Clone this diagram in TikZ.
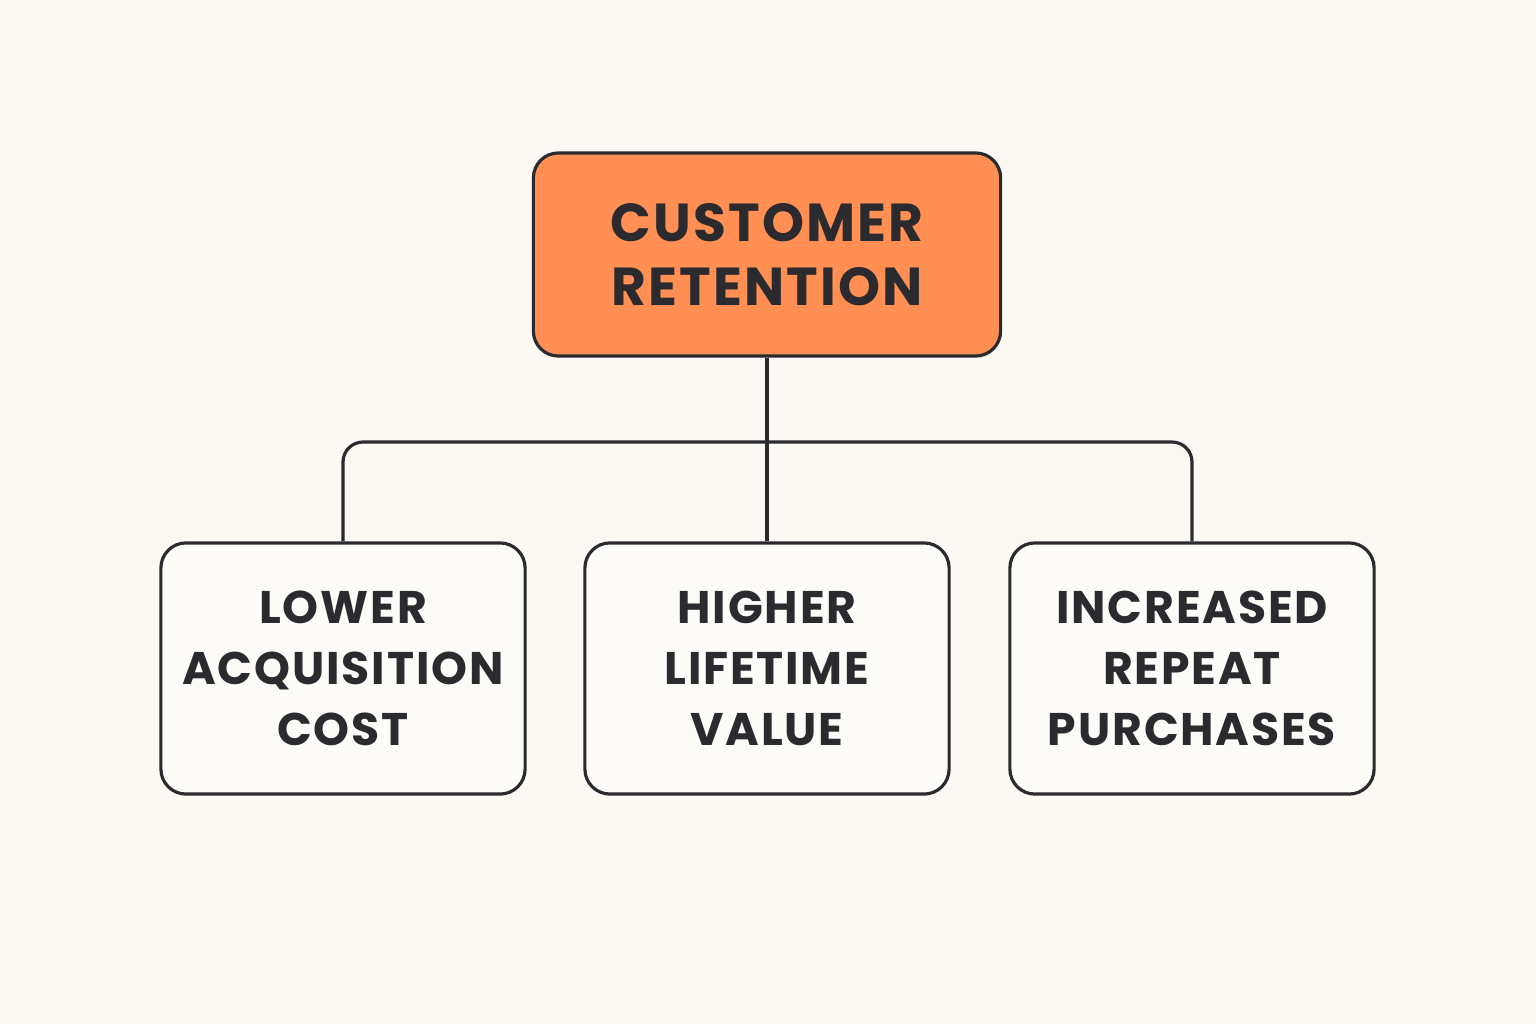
\documentclass[tikz,border=0pt]{standalone}
\usepackage{fontspec}
\setmainfont{Poppins}
\newfontfamily\spaziato[LetterSpace=4]{Poppins}
\usepackage{xcolor}
\definecolor{sfondo}{HTML}{FCF9F4}
\definecolor{arancio}{HTML}{FF8F52}
\definecolor{scuro}{HTML}{2A2A2F}
\definecolor{bianco}{HTML}{FDFBF8}
\tikzset{
  box/.style={draw=scuro, line width=0.9pt, rounded corners=0.25cm, align=center,
    text=scuro, font=\spaziato\bfseries\fontsize{13}{17.4}\selectfont},
  radice/.style={box, fill=arancio, minimum width=4.67cm, minimum height=2.03cm,
    font=\spaziato\bfseries\fontsize{15.2}{18.2}\selectfont},
  foglia/.style={box, fill=bianco, minimum width=3.64cm, minimum height=2.51cm},
  linea/.style={draw=scuro, line width=0.9pt}
}

\begin{document}
\begin{tikzpicture}[x=0.01cm, y=-0.01cm]
            % Sfondo
            \fill[sfondo] (0,0) rectangle (1536,1024);
            \useasboundingbox (0,0) rectangle (1536,1024);

            % Nodo principale
            \node[radice] (root) at (767,254.5) {CUSTOMER\\RETENTION};

            % Nodi figli
            \node[foglia] (lower) at (343,668.5) {LOWER\\ACQUISITION\\COST};
            \node[foglia] (higher) at (767,668.5) {HIGHER\\LIFETIME\\VALUE};
            \node[foglia] (repeat) at (1192,668.5) {INCREASED\\REPEAT\\PURCHASES};

            % Collegamenti
            \coordinate (split) at (767,442);
            \draw[linea] (root.south) -- (higher.north);
            \draw[linea, rounded corners=0.2cm] (lower.north) |- (split) -| (repeat.north);
        \end{tikzpicture}
\end{document}
